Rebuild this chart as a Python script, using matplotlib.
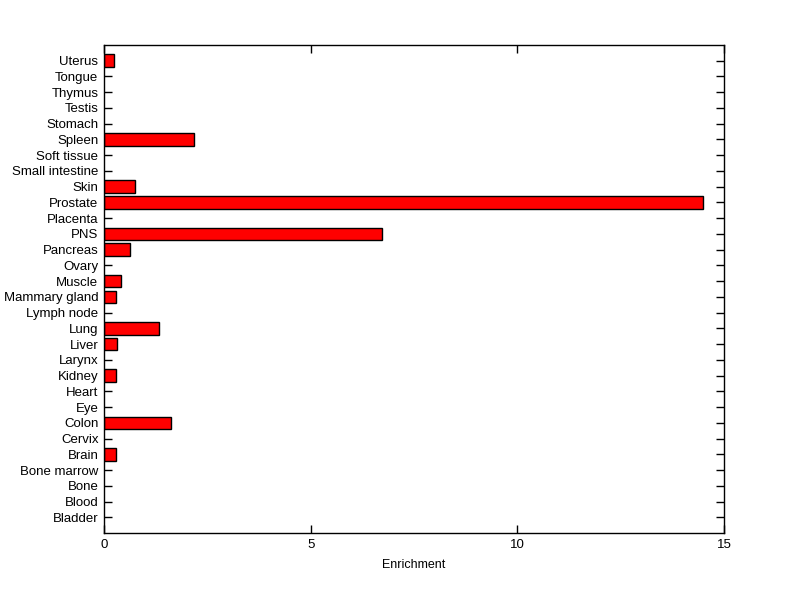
import matplotlib
matplotlib.use('Agg')
import matplotlib.pyplot as plt
import numpy as np

TISSUES = ['Bladder', 'Blood', 'Bone', 'Bone marrow', 'Brain', 'Cervix', 'Colon', 'Eye',
           'Heart', 'Kidney', 'Larynx', 'Liver', 'Lung', 'Lymph node', 'Mammary gland',
           'Muscle', 'Ovary', 'Pancreas', 'PNS', 'Placenta', 'Prostate', 'Skin',
           'Small intestine', 'Soft tissue', 'Spleen', 'Stomach', 'Testis', 'Thymus',
           'Tongue', 'Uterus']
ENRICHMENT = [0, 0, 0, 0, 0.28, 0, 1.63, 0,
              0, 0.29, 0, 0.32, 1.32, 0, 0.29,
              0.42, 0, 0.64, 6.73, 0, 14.49, 0.76,
              0, 0, 2.18, 0, 0, 0,
              0, 0.23]
XTICKS = [0, 5, 10, 15]

plt.rcParams['font.family'] = ['Liberation Sans', 'DejaVu Sans']
plt.rcParams['font.size'] = 8

fig = plt.figure(figsize=(8, 5.99), dpi=100)
ax = fig.add_axes([0.13, 0.11, 0.775, 0.815])

#categories 1..N like matlab barh
ypos = np.arange(1, len(TISSUES) + 1)
vals = np.array(ENRICHMENT)
mask = vals > 0
ax.barh(ypos[mask], vals[mask], height=0.8, color='#ff0000', edgecolor='black',
        linewidth=1, zorder=3)
ax.set_axisbelow(True)   #bars hide the inner tick marks

ax.set_ylim(0, len(TISSUES) + 1)
ax.set_xlim(0, 15)
ax.set_yticks(ypos)
ax.set_yticklabels(TISSUES)
ax.set_xticks(XTICKS)
ax.set_xticklabels([str(t) for t in XTICKS])
ax.tick_params(direction='in', length=6, width=1, top=True, right=True,
               labelsize=9.5, pad=4, colors='black')
for s in ax.spines.values():
    s.set_linewidth(1)
    s.set_zorder(4)
ax.set_xlabel('Enrichment', fontsize=9, labelpad=6)

fig.savefig('out.png', dpi=100)
